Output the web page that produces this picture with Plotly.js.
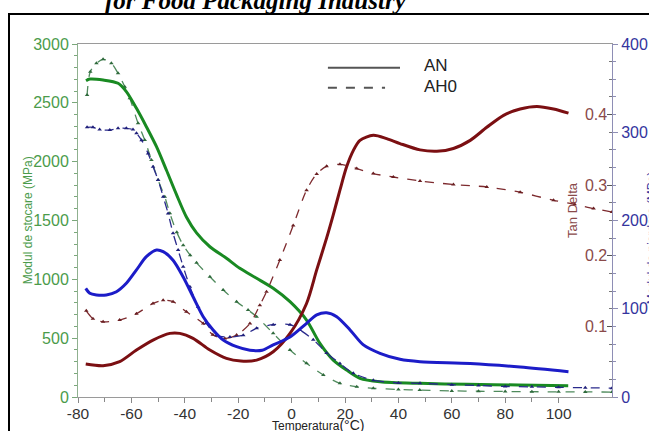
<!DOCTYPE html>
<html>
<head>
<meta charset="utf-8">
<script src="https://cdn.plot.ly/plotly-3.0.1.min.js"></script>
<style>
  html, body { margin: 0; padding: 0; width: 649px; height: 431px; overflow: hidden; background: #fff; }
  #frame { position: absolute; left: 8px; top: 13px; width: 700px; height: 500px; border: 2px solid #000; }
  #heading { position: absolute; left: 105px; top: -12px; font-family: "Liberation Serif", "DejaVu Serif", serif;
             font-weight: bold; font-style: italic; font-size: 25px; line-height: 1; color: #000; white-space: nowrap; }
  #chart { position: absolute; left: 0; top: 0; width: 649px; height: 431px; }
</style>
</head>
<body>
<div id="frame"></div>
<div id="heading">for Food Packaging Industry</div>
<div id="chart"></div>
<script>
// Storage modulus E' (MPa), left axis
const tempAN_E1 = [-77, -75.6, -70.6, -65, -61.9, -58.1, -54.4, -50.6, -46.9, -43.1, -39.4, -35.6, -30.6, -24.4, -19.4, -13.1, -6.9, -0.6, 5.6, 10.6, 15.6, 20.6, 25.6, 33.1, 48.1, 66, 85, 103.6];
const AN_E1 = [2688, 2702, 2694, 2666, 2595, 2453, 2297, 2127, 1929, 1720, 1530, 1395, 1277, 1179, 1094, 1009, 924, 810, 654, 456, 314, 229, 159, 130, 116, 108, 102, 96];

const tempAH0_E1 = [-76.6, -75.4, -73.1, -70.6, -67.5, -65, -62.5, -60.6, -57.5, -55, -52.5, -50, -47.5, -45.6, -43, -40.6, -38, -35.6, -30.6, -25.6, -20.6, -16.3, -13.1, -6.9, -0.6, 5.6, 11.9, 18.1, 24.4, 30.6, 40, 48, 60, 70, 80, 90, 100, 110, 120];
const AH0_E1 = [2566, 2765, 2836, 2870, 2836, 2751, 2637, 2538, 2326, 2184, 2014, 1844, 1702, 1561, 1400, 1290, 1205, 1140, 1022, 909, 810, 739, 683, 541, 400, 286, 187, 116, 88, 74, 64, 59, 52, 49, 47, 45, 44, 43, 42];

// Loss modulus E'' (MPa), outer right axis
const tempAN_E2 = [-77.1, -75.6, -73.1, -69.4, -65.6, -61.9, -58.1, -54.4, -50.6, -48.1, -44.4, -40.6, -36.9, -33.1, -29.4, -25.6, -20.6, -15.6, -11, -6.9, -0.6, 5.6, 9.4, 13.1, 16.9, 21.9, 26.9, 33.1, 40.6, 48.1, 66.9, 85.6, 103.7];
const AN_E2 = [123, 117.5, 115.6, 115.6, 119.3, 128.8, 144, 159, 166.6, 164.7, 155, 136, 113.6, 91, 76, 64.6, 57, 53, 53, 59, 68, 83.5, 93, 95.5, 91, 76, 59, 49.5, 42.7, 40, 38, 34, 28.7];

const tempAH0_E2 = [-76.6, -74.4, -71.9, -68.1, -65, -61.9, -59.4, -58.1, -56.2, -53.75, -51.9, -50, -48.1, -46.25, -44.4, -42.5, -40.6, -38.1, -35, -31.9, -28.1, -23.1, -18.1, -13.1, -6.9, -0.6, 3.1, 8.1, 13.1, 18.1, 23.1, 30.6, 40, 48.1, 60, 70, 80, 90, 100, 110, 120];
const AH0_E2 = [305.6, 305.6, 303, 302.5, 304.5, 304.5, 303, 299, 291, 276, 261, 246, 227, 208, 185.5, 166.6, 147.6, 125, 102, 83.5, 70, 68, 70, 78, 82, 82, 76, 65, 50, 38, 27, 19, 16, 15.5, 14, 13, 12, 11.5, 11, 10.5, 10];

// Tan delta, inner right axis
const tempAN_tan = [-77.1, -70.6, -64.4, -58.1, -51.9, -45.6, -41.9, -36.9, -30.6, -24.4, -19, -13.1, -6.9, -0.6, 5.6, 9.4, 13.1, 15.6, 18.1, 20.6, 23.1, 25.6, 30.6, 35.6, 40.6, 48.1, 54.4, 60.6, 66.9, 73.1, 79.4, 85.6, 91.9, 98.1, 103.7];
const AN_tan = [0.0467, 0.0443, 0.05, 0.0665, 0.0806, 0.0901, 0.0901, 0.083, 0.0665, 0.0547, 0.051, 0.0523, 0.064, 0.09, 0.1325, 0.18, 0.225, 0.258, 0.293, 0.326, 0.349, 0.3635, 0.3706, 0.366, 0.359, 0.350, 0.348, 0.352, 0.3635, 0.382, 0.399, 0.408, 0.4116, 0.408, 0.402];

const tempAH0_tan = [-76.9, -74.4, -70.6, -64.4, -58.1, -51.9, -48.1, -44.4, -39.4, -33.1, -29.5, -25, -20.6, -15.6, -11.9, -9.4, -4.4, 0.6, 5.6, 9.4, 13.1, 18.1, 24.4, 30.6, 38.1, 48.1, 60.6, 73.1, 85.6, 98.1, 106, 113.1, 120];
const AH0_tan = [0.122, 0.111, 0.1065, 0.109, 0.118, 0.1325, 0.137, 0.135, 0.1207, 0.104, 0.088, 0.083, 0.0877, 0.104, 0.13, 0.149, 0.194, 0.243, 0.293, 0.316, 0.3267, 0.3296, 0.3235, 0.3164, 0.3116, 0.306, 0.301, 0.2975, 0.29, 0.2786, 0.273, 0.267, 0.262];

const xTicks = [-80, -60, -40, -20, 0, 20, 40, 60, 80, 100, 120];
const xTickText = ['-80', '-60', '-40', '-20', '0', '20', '40', '60', '80', '100', '120'];
const tanTicks = [0.1, 0.2, 0.3, 0.4];

const solid = (color) => ({ color: color, width: 3, shape: 'spline', smoothing: 0.8 });
const dashed = (color) => ({ color: color, width: 1.3, dash: 'dash', shape: 'spline', smoothing: 0.8 });
const tri = (color) => ({ symbol: 'triangle-up', size: 4, color: color });

const traces = [
  { x: tempAN_tan, y: AN_tan, yaxis: 'y2', mode: 'lines', line: solid('#7b0f12'), name: 'AN tan δ' },
  { x: tempAH0_tan, y: AH0_tan, yaxis: 'y2', mode: 'lines+markers', line: dashed('#7d2a2e'), marker: tri('#6a1f22'), name: 'AH0 tan δ' },
  { x: tempAH0_E2, y: AH0_E2, yaxis: 'y3', mode: 'lines+markers', line: dashed('#2a2a8c'), marker: tri('#1f1f7a'), name: "AH0 E''" },
  { x: tempAH0_E1, y: AH0_E1, yaxis: 'y', mode: 'lines+markers', line: dashed('#4f8a5c'), marker: tri('#2f6a3c'), name: "AH0 E'" },
  { x: tempAN_E2, y: AN_E2, yaxis: 'y3', mode: 'lines', line: solid('#1c1cc8'), name: "AN E''" },
  { x: tempAN_E1, y: AN_E1, yaxis: 'y', mode: 'lines', line: solid('#198a22'), name: "AN E'" }
];

const tickFont = (color, size) => ({ family: 'Liberation Sans, Arial, sans-serif', size: size || 16, color: color });

const layout = {
  width: 649, height: 431,
  margin: { l: 78, r: 37, t: 44, b: 34 },
  paper_bgcolor: 'rgba(0,0,0,0)', plot_bgcolor: 'rgba(0,0,0,0)',
  showlegend: false,
  xaxis: {
    range: [-80, 120], tickvals: xTicks, ticktext: xTickText, ticks: 'outside', ticklen: 5, tickcolor: '#888',
    showline: true, linecolor: '#9a9a9a', linewidth: 1, mirror: true, ticklabelstandoff: -3,
    showgrid: false, zeroline: false, tickfont: tickFont('#333', 15.5),
    minor: { dtick: 10, tick0: -80, ticks: 'outside', ticklen: 4, tickcolor: '#888' }
  },
  yaxis: {
    range: [0, 3000], dtick: 500, ticks: 'outside', ticklen: 5, tickcolor: '#7aa87a',
    showline: true, linecolor: '#8fb08f', linewidth: 1,
    showgrid: false, zeroline: false, tickfont: tickFont('#4b9b4b'),
    minor: { dtick: 100, ticks: 'outside', ticklen: 3, tickcolor: '#7aa87a' }
  },
  yaxis2: {
    overlaying: 'y', side: 'right', anchor: 'x',
    range: [0, 0.5], tickvals: tanTicks, ticks: 'inside', ticklen: 5, tickcolor: '#555',
    ticklabelposition: 'inside', showline: true, linecolor: '#8e8eb5', linewidth: 1,
    showgrid: false, zeroline: false, tickfont: tickFont('#8a4a4a'),
    minor: { dtick: 0.025, ticks: 'inside', ticklen: 3, tickcolor: '#777' }
  },
  yaxis3: {
    overlaying: 'y', side: 'right', anchor: 'x',
    range: [0, 400], dtick: 100, ticks: 'outside', ticklen: 5, tickcolor: '#8e8eb5',
    showline: true, linecolor: '#8e8eb5', linewidth: 1,
    showgrid: false, zeroline: false, tickfont: tickFont('#34349e'),
    minor: { dtick: 20, ticks: 'outside', ticklen: 3, tickcolor: '#8e8eb5' }
  },
  shapes: [
    { type: 'line', xref: 'paper', yref: 'paper', x0: 0.468, x1: 0.603, y0: 0.933, y1: 0.933, line: { color: '#555', width: 2 } },
    { type: 'line', xref: 'paper', yref: 'paper', x0: 0.468, x1: 0.575, y0: 0.876, y1: 0.876, line: { color: '#555', width: 2, dash: 'dash' } }
  ],
  annotations: [
    { xref: 'paper', yref: 'paper', x: 0.644, y: 0.94, xanchor: 'left', yanchor: 'middle', showarrow: false,
      text: 'AN', font: { family: 'Liberation Sans, Arial, sans-serif', size: 17, color: '#222' } },
    { xref: 'paper', yref: 'paper', x: 0.644, y: 0.881, xanchor: 'left', yanchor: 'middle', showarrow: false,
      text: 'AH0', font: { family: 'Liberation Sans, Arial, sans-serif', size: 17, color: '#222' } },
    { xref: 'paper', yref: 'paper', x: -0.094, y: 0.5, xanchor: 'center', yanchor: 'middle', showarrow: false, textangle: -90,
      text: 'Modul de stocare (MPa)', font: { family: 'Liberation Sans, Arial, sans-serif', size: 12, color: '#4b9b4b' } },
    { xref: 'paper', yref: 'paper', x: 0.927, y: 0.53, xanchor: 'center', yanchor: 'middle', showarrow: false, textangle: -90,
      text: 'Tan Delta', font: { family: 'Liberation Sans, Arial, sans-serif', size: 13, color: '#8a4a4a' } },
    { xref: 'paper', yref: 'paper', x: 1.075, y: 0.45, xanchor: 'center', yanchor: 'middle', showarrow: false, textangle: -90,
      text: 'Modul de pierdere (MPa)', font: { family: 'Liberation Sans, Arial, sans-serif', size: 12, color: '#34349e' } },
    { xref: 'paper', yref: 'paper', x: 0.45, y: -0.0795, xanchor: 'center', yanchor: 'middle', showarrow: false,
      text: 'Temperatura<span style="font-size:14px">(°C)</span>', font: { family: 'Liberation Sans, Arial, sans-serif', size: 12, color: '#222' } }
  ]
};

Plotly.newPlot('chart', traces, layout, { displayModeBar: false, staticPlot: true });
</script>
</body>
</html>
